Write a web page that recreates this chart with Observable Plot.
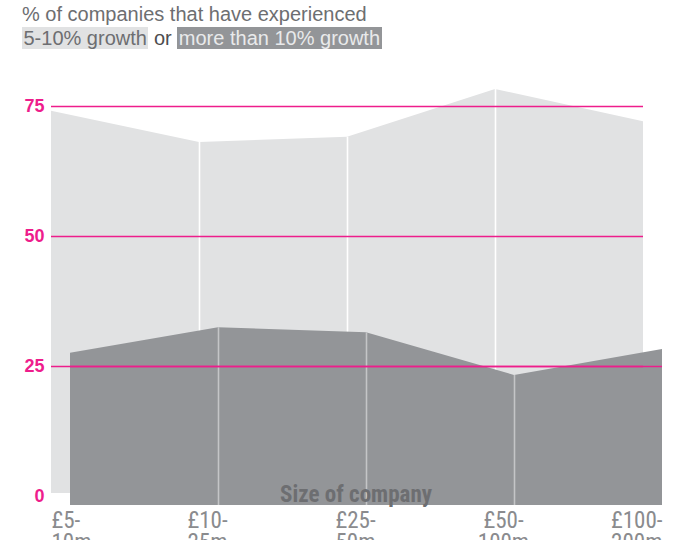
<!DOCTYPE html>
<html>
<head>
<meta charset="utf-8">
<script src="https://cdn.jsdelivr.net/npm/d3@7"></script>
<script src="https://cdn.jsdelivr.net/npm/@observablehq/plot@0.6"></script>
<style>
  html, body { margin: 0; padding: 0; background: #fff; }
  #wrap { position: relative; width: 694px; height: 540px; overflow: hidden; }
  #chart { position: absolute; left: 0; top: 0; }
  #head { position: absolute; left: 22px; top: 1.5px; font-family: "Liberation Sans", Arial, sans-serif; font-size: 20px; line-height: 24px; color: #6d6e71; white-space: nowrap; z-index: 2; }
  #head .l { background: #e1e2e3; color: #6d6e71; padding: 0 1.5px; }
  #head .d { background: #939598; color: #e9eaeb; padding: 0 1.5px; }
  #head .or { color: #4d4d4f; }
</style>
</head>
<body>
<div id="wrap">
  <div id="head">
    <div>% of companies that have experienced</div>
    <div><span class="l">5-10% growth</span> <span class="or">or</span> <span class="d">more than 10% growth</span></div>
  </div>
  <div id="chart"></div>
</div>
<script>
const categories = ["£5-10m", "£10-25m", "£25-50m", "£50-100m", "£100-200m"];
const tickLabels = ["£5-\n10m", "£10-\n25m", "£25-\n50m", "£50-\n100m", "£100-\n200m"];
const growth5to10 = [73.5, 67.5, 68.5, 77.7, 71.5];
const growthOver10 = [29.3, 34.2, 33.2, 25.0, 30.0];
const yTicks = [0, 25, 50, 75];
const gridValues = [75, 50, 25];
const axisTitle = "Size of company";

const light = categories.map((c, i) => ({cat: c, v: growth5to10[i]}));
const dark = categories.map((c, i) => ({cat: c, v: growthOver10[i]}));

const PINK = "#ee1d8c";
const LIGHT = "#e1e2e3";
const DARK = "#939598";
const OFFX = 19, OFFY = 9, BACKY = -3;
const NARROW = "'Liberation Sans Narrow', 'Roboto Condensed', 'Liberation Sans', sans-serif";
const first = categories[0], last = categories[categories.length - 1];
const tickOpts = {tickSize: 0, tickPadding: 16, label: null, tickFormat: d => tickLabels[categories.indexOf(d)], lineHeight: 0.95, fill: "#8a8b8e", fontSize: 23, fontFamily: NARROW};

const chart = Plot.plot({
  width: 694,
  height: 540,
  marginLeft: 50,
  marginRight: 51,
  marginTop: 80,
  marginBottom: 44,
  style: {background: "transparent", overflow: "visible"},
  x: {type: "point", domain: categories, padding: 0, label: null},
  y: {domain: [0, 80], label: null},
  marks: [
    Plot.areaY(light, {x: "cat", y: "v", fill: LIGHT, dy: BACKY}),
    Plot.ruleX(light.slice(1, -1), {x: "cat", y1: 0, y2: "v", stroke: "white", strokeWidth: 1.6, dy: BACKY}),
    Plot.areaY(dark, {x: "cat", y: "v", fill: DARK, dx: OFFX, dy: OFFY}),
    Plot.ruleX(dark.slice(1, -1), {x: "cat", y1: 0, y2: "v", stroke: "#c4c5c7", strokeWidth: 1.6, dx: OFFX, dy: OFFY}),
    Plot.ruleY(gridValues, {x1: () => first, x2: () => last, stroke: PINK, strokeWidth: 1.3}),
    Plot.ruleY(gridValues.filter(v => v === 25), {x1: () => first, x2: () => last, stroke: PINK, strokeWidth: 1.3, dx: OFFX}),
    Plot.text([axisTitle], {text: d => d, frameAnchor: "bottom", lineAnchor: "middle", dx: 9, dy: -2, fill: "#6d6e71", fontSize: 23, fontWeight: "bold", fontFamily: NARROW}),
    Plot.axisY({ticks: yTicks, tickSize: 0, tickPadding: 6, label: null, fill: PINK, fontSize: 18, fontWeight: "bold", fontFamily: "'Liberation Sans', Arial, sans-serif"}),
    Plot.axisX([first], {...tickOpts, textAnchor: "start"}),
    Plot.axisX(categories.slice(1, -1), {...tickOpts, dx: 8}),
    Plot.axisX([last], {...tickOpts, textAnchor: "end", dx: OFFX})
  ]
});
document.getElementById("chart").appendChild(chart);
</script>
</body>
</html>
